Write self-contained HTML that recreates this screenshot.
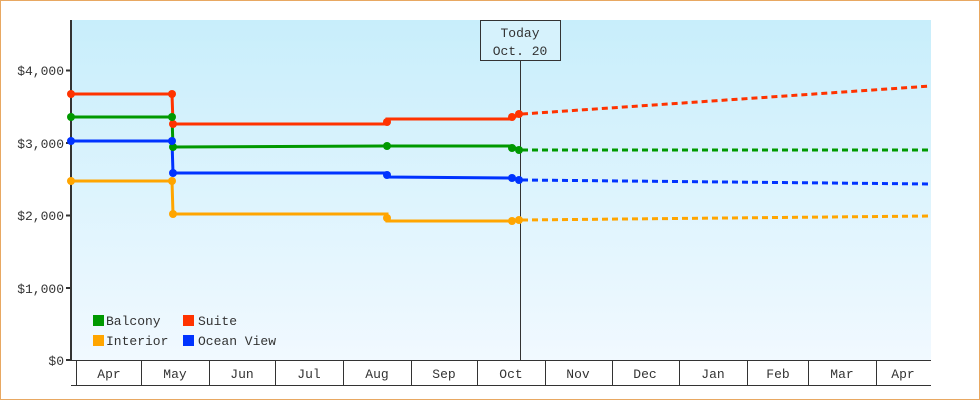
<!DOCTYPE html>
<html><head><meta charset="utf-8"><style>
html,body{margin:0;padding:0;background:#fff}
svg{display:block}
text{font-family:"Liberation Mono",monospace;font-size:13px;fill:#333}
</style></head><body>
<svg width="980" height="400" viewBox="0 0 980 400" xmlns="http://www.w3.org/2000/svg">
<defs><linearGradient id="bg" x1="0" y1="0" x2="0" y2="1"><stop offset="0" stop-color="#c8eefb"/><stop offset="1" stop-color="#f1f9ff"/></linearGradient></defs>
<rect x="0.5" y="0.5" width="979" height="399" fill="#fff" stroke="#e8a862"/>
<rect x="71" y="20" width="860" height="340" fill="url(#bg)"/>
<!-- y axis -->
<line x1="71" y1="20" x2="71" y2="361" stroke="#333" stroke-width="2"/>
<g stroke="#333" stroke-width="2">
<line x1="66" y1="70.5" x2="71" y2="70.5"/><line x1="66" y1="143" x2="71" y2="143"/><line x1="66" y1="215.5" x2="71" y2="215.5"/><line x1="66" y1="288" x2="71" y2="288"/><line x1="66" y1="360" x2="71" y2="360"/>
</g>
<g text-anchor="end"><text x="64" y="75">$4,000</text><text x="64" y="148">$3,000</text><text x="64" y="220">$2,000</text><text x="64" y="293">$1,000</text><text x="64" y="365">$0</text></g>
<!-- x axis boxes -->
<g stroke="#333" stroke-width="1" fill="none">
<line x1="71" y1="360.5" x2="931" y2="360.5"/><line x1="71" y1="385.5" x2="931" y2="385.5"/>
<line x1="76.5" y1="361" x2="76.5" y2="385"/><line x1="141.5" y1="361" x2="141.5" y2="385"/><line x1="209.5" y1="361" x2="209.5" y2="385"/><line x1="275.5" y1="361" x2="275.5" y2="385"/><line x1="343.5" y1="361" x2="343.5" y2="385"/><line x1="411.5" y1="361" x2="411.5" y2="385"/><line x1="477.5" y1="361" x2="477.5" y2="385"/><line x1="545.5" y1="361" x2="545.5" y2="385"/><line x1="612.5" y1="361" x2="612.5" y2="385"/><line x1="679.5" y1="361" x2="679.5" y2="385"/><line x1="747.5" y1="361" x2="747.5" y2="385"/><line x1="808.5" y1="361" x2="808.5" y2="385"/><line x1="876.5" y1="361" x2="876.5" y2="385"/>
</g>
<g text-anchor="middle"><text x="109" y="378">Apr</text><text x="175" y="378">May</text><text x="242" y="378">Jun</text><text x="309" y="378">Jul</text><text x="377" y="378">Aug</text><text x="444" y="378">Sep</text><text x="511" y="378">Oct</text><text x="578" y="378">Nov</text><text x="645" y="378">Dec</text><text x="713" y="378">Jan</text><text x="778" y="378">Feb</text><text x="842" y="378">Mar</text><text x="903" y="378">Apr</text></g>
<!-- today -->
<line x1="520.5" y1="60" x2="520.5" y2="360" stroke="#333"/>
<rect x="480.5" y="20.5" width="80" height="40" fill="#d6f2fc" stroke="#333"/>
<text x="520" y="37" text-anchor="middle">Today</text><text x="520" y="55" text-anchor="middle">Oct. 20</text>
<!-- series -->
<g fill="none" stroke-width="3">
<polyline stroke="#ff3300" points="71,94 172,94 173,124 387,124 387,119 512,119 519,114"/>
<polyline stroke="#009900" points="71,117 172,117 173,147 387,146 512,146 519,150"/>
<polyline stroke="#0033ff" points="71,141 172,141 173,173 387,173 387,177 512,178 519,180"/>
<polyline stroke="#ffa500" points="71,181 172,181 173,214 387,214 387,221 512,221 519,220"/>
<g stroke-dasharray="6,4">
<polyline stroke="#ff3300" points="522,114 931,86"/>
<polyline stroke="#009900" points="522,150 931,150"/>
<polyline stroke="#0033ff" points="522,180 931,184"/>
<polyline stroke="#ffa500" points="522,220 931,216"/>
</g></g>
<g>
<g fill="#ff3300"><circle cx="71" cy="94" r="4"/><circle cx="172" cy="94" r="4"/><circle cx="173" cy="124" r="4"/><circle cx="387" cy="122" r="4"/><circle cx="512" cy="117" r="4"/><circle cx="519" cy="114" r="4"/></g>
<g fill="#009900"><circle cx="71" cy="117" r="4"/><circle cx="172" cy="117" r="4"/><circle cx="173" cy="147" r="4"/><circle cx="387" cy="146" r="4"/><circle cx="512" cy="148" r="4"/><circle cx="519" cy="150" r="4"/></g>
<g fill="#0033ff"><circle cx="71" cy="141" r="4"/><circle cx="172" cy="141" r="4"/><circle cx="173" cy="173" r="4"/><circle cx="387" cy="175" r="4"/><circle cx="512" cy="178" r="4"/><circle cx="519" cy="180" r="4"/></g>
<g fill="#ffa500"><circle cx="71" cy="181" r="4"/><circle cx="172" cy="181" r="4"/><circle cx="173" cy="214" r="4"/><circle cx="387" cy="218" r="4"/><circle cx="512" cy="221" r="4"/><circle cx="519" cy="220" r="4"/></g>
</g>
<!-- legend -->
<rect x="93" y="315" width="11" height="11" fill="#009900"/><text x="106" y="325">Balcony</text>
<rect x="183" y="315" width="11" height="11" fill="#ff3300"/><text x="198" y="325">Suite</text>
<rect x="93" y="335" width="11" height="11" fill="#ffa500"/><text x="106" y="345">Interior</text>
<rect x="183" y="335" width="11" height="11" fill="#0033ff"/><text x="198" y="345">Ocean View</text>
</svg>
</body></html>
